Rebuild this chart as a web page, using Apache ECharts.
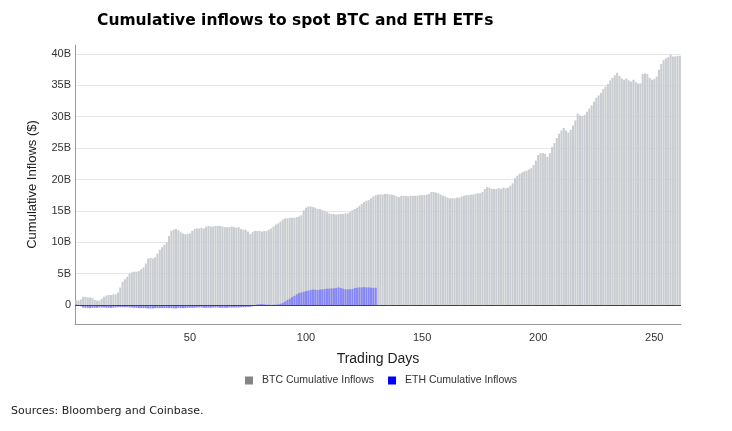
<!DOCTYPE html>
<html>
<head>
<meta charset="utf-8">
<script src="https://cdn.jsdelivr.net/npm/echarts@6/dist/echarts.min.js"></script>
<style>
  body { margin: 0; background: #fff; }
  #chart { width: 732px; height: 431px; }
</style>
</head>
<body>
<div id="chart"></div>
<script>
// cumulative inflows, billions of $, by trading day
var btcInflows = [
  0.8, 0.7, 0.9, 1.3, 1.3, 1.2, 1.2, 1.1, 0.8, 0.7,
  0.7, 1.0, 1.3, 1.5, 1.6, 1.6, 1.7, 1.7, 2.0, 2.8,
  3.7, 4.1, 4.5, 5.0, 5.2, 5.3, 5.3, 5.4, 5.7, 6.0,
  6.6, 7.4, 7.5, 7.4, 7.6, 8.2, 8.8, 9.2, 9.6, 10.0,
  11.0, 11.8, 12.0, 12.1, 11.9, 11.6, 11.4, 11.3, 11.3, 11.4,
  11.8, 12.1, 12.2, 12.2, 12.3, 12.2, 12.5, 12.6, 12.5, 12.5,
  12.6, 12.6, 12.6, 12.5, 12.4, 12.4, 12.4, 12.5, 12.4, 12.3,
  12.4, 12.1, 12.0, 12.0, 11.7, 11.3, 11.6, 11.8, 11.8, 11.8,
  11.7, 11.8, 11.8, 12.0, 12.2, 12.5, 12.8, 13.0, 13.3, 13.6,
  13.8, 13.8, 13.9, 13.9, 13.9, 14.0, 14.1, 14.3, 15.1, 15.5,
  15.7, 15.7, 15.6, 15.5, 15.3, 15.3, 15.1, 15.0, 14.8, 14.6,
  14.5, 14.5, 14.4, 14.5, 14.5, 14.5, 14.6, 14.6, 14.8, 15.1,
  15.3, 15.5, 15.8, 16.1, 16.4, 16.6, 16.7, 17.0, 17.3, 17.5,
  17.6, 17.6, 17.6, 17.7, 17.7, 17.6, 17.6, 17.5, 17.3, 17.2,
  17.4, 17.4, 17.4, 17.3, 17.4, 17.4, 17.4, 17.4, 17.5, 17.5,
  17.5, 17.6, 17.7, 18.0, 18.0, 17.9, 17.8, 17.6, 17.4, 17.3,
  17.1, 17.0, 17.0, 17.0, 17.1, 17.1, 17.3, 17.4, 17.5, 17.5,
  17.6, 17.6, 17.7, 17.8, 17.8, 18.0, 18.5, 18.8, 18.7, 18.5,
  18.5, 18.5, 18.6, 18.5, 18.7, 18.6, 18.7, 19.0, 19.4, 20.2,
  20.6, 20.9, 21.1, 21.3, 21.4, 21.6, 21.8, 22.3, 23.0, 23.9,
  24.2, 24.2, 24.1, 23.6, 24.2, 25.2, 25.8, 26.6, 27.3, 27.8,
  28.2, 27.8, 27.5, 27.9, 28.6, 29.4, 30.5, 30.2, 30.1, 30.3,
  30.8, 31.3, 31.8, 32.4, 33.0, 33.4, 33.8, 34.4, 34.8, 35.2,
  35.8, 36.2, 36.6, 37.0, 36.5, 36.1, 35.9, 36.1, 35.8, 35.6,
  35.9, 35.5, 35.3, 35.3, 36.8, 36.9, 36.8, 36.2, 35.9, 36.0,
  36.4, 37.5, 38.4, 39.0, 39.3, 39.5, 39.9, 39.6, 39.6, 39.7,
  39.7
];
var ethInflows = [
  0.1, -0.05, -0.2, -0.4, -0.45, -0.45, -0.5, -0.45, -0.45, -0.45,
  -0.4, -0.4, -0.4, -0.45, -0.45, -0.45, -0.4, -0.4, -0.35, -0.35,
  -0.35, -0.35, -0.35, -0.4, -0.4, -0.45, -0.45, -0.5, -0.5, -0.5,
  -0.5, -0.55, -0.55, -0.55, -0.5, -0.5, -0.5, -0.5, -0.5, -0.5,
  -0.5, -0.5, -0.55, -0.55, -0.5, -0.5, -0.5, -0.5, -0.45, -0.45,
  -0.45, -0.45, -0.4, -0.4, -0.4, -0.45, -0.45, -0.45, -0.45, -0.4,
  -0.4, -0.4, -0.45, -0.45, -0.45, -0.45, -0.4, -0.4, -0.4, -0.4,
  -0.4, -0.35, -0.35, -0.35, -0.3, -0.3, -0.2, -0.1, 0.1, 0.15,
  0.15, 0.1, 0.05, 0.05, 0.0, 0.05, 0.05, 0.1, 0.2, 0.35,
  0.55, 0.8, 1.0, 1.25, 1.45, 1.7, 1.9, 2.0, 2.1, 2.2,
  2.3, 2.4, 2.45, 2.45, 2.4, 2.45, 2.5, 2.55, 2.6, 2.6,
  2.65, 2.65, 2.7, 2.8, 2.7, 2.6, 2.5, 2.5, 2.5, 2.55,
  2.7, 2.75, 2.8, 2.8, 2.85, 2.8, 2.8, 2.75, 2.75, 2.75
];
var tradingDays = btcInflows.map(function (v, i) { return i + 1; });
var xTickDays = [50, 100, 150, 200, 250];

var chart = echarts.init(document.getElementById("chart"));

var option = {
  animation: false,
  title: [
    {
      text: "Cumulative inflows to spot BTC and ETH ETFs",
      left: 97,
      top: 13,
      padding: 0,
      textStyle: { fontFamily: "DejaVu Sans", fontWeight: "bold", fontSize: 15.5, color: "#000" }
    },
    {
      text: "Sources: Bloomberg and Coinbase.",
      left: 11,
      top: 406,
      padding: 0,
      textStyle: { fontFamily: "DejaVu Sans", fontWeight: "normal", fontSize: 11, color: "#222" }
    }
  ],
  legend: {
    bottom: 40,
    left: 240,
    itemWidth: 8,
    itemHeight: 8,
    itemGap: 14,
    icon: "rect",
    textStyle: { fontFamily: "Liberation Sans", fontSize: 10.5, color: "#333", padding: [0, 0, 0, 4] },
    data: [
      { name: "BTC Cumulative Inflows", itemStyle: { color: "#858585" } },
      { name: "ETH Cumulative Inflows", itemStyle: { color: "#0000ff" } }
    ]
  },
  grid: { left: 75, right: 51, top: 45, bottom: 107 },
  xAxis: {
    type: "category",
    data: tradingDays,
    name: "Trading Days",
    nameLocation: "middle",
    nameGap: 28,
    nameTextStyle: { fontFamily: "Liberation Sans", fontSize: 14, color: "#222" },
    axisLine: { onZero: false, lineStyle: { color: "#999" } },
    axisTick: { show: false },
    axisLabel: {
      interval: function (idx, val) { return xTickDays.indexOf(Number(val)) >= 0; },
      margin: 8,
      fontFamily: "Liberation Sans",
      fontSize: 11,
      color: "#333"
    },
    splitLine: { show: false }
  },
  yAxis: {
    type: "value",
    min: -3.03,
    max: 41.43,
    minInterval: 5,
    maxInterval: 5,
    name: "Cumulative Inflows ($)",
    nameLocation: "middle",
    nameGap: 36,
    nameTextStyle: { fontFamily: "Liberation Sans", fontSize: 13, color: "#222" },
    axisLine: { show: true, lineStyle: { color: "#999" } },
    axisTick: { show: false },
    axisLabel: {
      fontFamily: "Liberation Sans",
      fontSize: 11,
      color: "#333",
      margin: 4,
      formatter: function (v) {
        if (Math.abs(v % 5) > 1e-6) return "";
        return v === 0 ? "0" : v + "B";
      }
    },
    splitLine: {
      show: true,
      lineStyle: {
        color: ["rgba(0,0,0,0)", "#e6e6e6", "#e6e6e6", "#e6e6e6", "#e6e6e6", "#e6e6e6",
                "#e6e6e6", "#e6e6e6", "#e6e6e6", "#e6e6e6", "rgba(0,0,0,0)"]
      }
    }
  },
  series: [
    {
      name: "BTC Cumulative Inflows",
      type: "bar",
      data: btcInflows,
      barCategoryGap: "12%",
      barGap: "-100%",
      itemStyle: { color: "#c9ccd0" },
      markLine: {
        silent: true,
        symbol: "none",
        label: { show: false },
        lineStyle: { color: "#444", width: 1, type: "solid" },
        data: [{ yAxis: 0 }]
      }
    },
    {
      name: "ETH Cumulative Inflows",
      type: "bar",
      data: ethInflows,
      barCategoryGap: "12%",
      barGap: "-100%",
      itemStyle: { color: "#8686f4" }
    }
  ]
};

chart.setOption(option);
</script>
</body>
</html>
